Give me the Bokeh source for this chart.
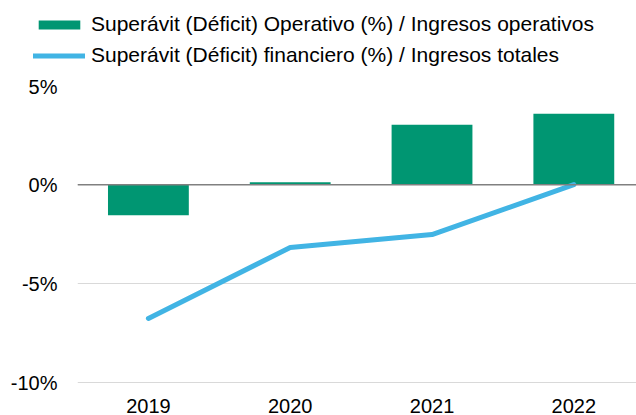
from bokeh.plotting import figure
from bokeh.models import (Range1d, FixedTicker, PrintfTickFormatter, Legend, LegendItem,
                          Span, ColumnDataSource)
from bokeh.embed import file_html
from bokeh.resources import INLINE

years = ["2019", "2020", "2021", "2022"]
operativo = [-1.55, 0.12, 3.02, 3.58]
financiero = [-6.75, -3.17, -2.52, 0.0]
y_ticks = [-10, -5, 0, 5]

label_op = "Superávit (Déficit) Operativo (%) / Ingresos operativos"
label_fin = "Superávit (Déficit) financiero (%) / Ingresos totales"

FONT = "Liberation Sans"
GREEN = "#009672"
BLUE = "#41B4E4"

idx = list(range(len(years)))
src = ColumnDataSource(dict(x=idx, op=operativo, fin=financiero))

# ---- legend strip on top (series drawn out of view; only the legend shows) ----
top = figure(width=636, height=75, output_backend="svg", toolbar_location=None,
             x_range=Range1d(-20, -19), y_range=Range1d(-20, -19),
             min_border_left=21, min_border_right=0, min_border_top=0, min_border_bottom=0,
             x_axis_location=None, y_axis_location=None)
top.outline_line_color = None
top.grid.visible = False
lg_bar = top.vbar(x="x", top="op", bottom=0, width=0.57, source=src,
                  fill_color=GREEN, line_color=None)
lg_line = top.line(x="x", y="fin", source=src, line_color=BLUE, line_width=5,
                   line_cap="round")
legend = Legend(items=[LegendItem(label=label_op, renderers=[lg_bar]),
                       LegendItem(label=label_fin, renderers=[lg_line])],
                location="top_left", orientation="vertical",
                padding=0, margin=12, spacing=7,
                glyph_width=52, glyph_height=11, label_height=20,
                label_standoff=6,
                label_text_font=FONT, label_text_font_size="21px",
                label_text_color="#000000",
                border_line_color=None, background_fill_alpha=0)
top.add_layout(legend, "center")

# ---- main chart ----
p = figure(width=636, height=340, output_backend="svg", toolbar_location=None,
           x_range=Range1d(-0.5, 3.442), y_range=Range1d(-10.03, 5),
           min_border_left=77, min_border_right=0, min_border_top=10, min_border_bottom=32)
p.outline_line_color = None

p.xgrid.visible = False
p.ygrid.grid_line_color = "#D9D9D9"
p.ygrid.grid_line_width = 1
p.yaxis.ticker = FixedTicker(ticks=y_ticks)
p.yaxis.formatter = PrintfTickFormatter(format="%d%%")
p.xaxis.ticker = FixedTicker(ticks=idx)
p.xaxis.major_label_overrides = {i: y for i, y in zip(idx, years)}

for ax in (p.xaxis[0], p.yaxis[0]):
    ax.axis_line_color = None
    ax.major_tick_line_color = None
    ax.minor_tick_line_color = None
    ax.major_label_text_font = FONT
    ax.major_label_text_font_size = "20px"
    ax.major_label_text_color = "#000000"
p.yaxis.major_label_standoff = 14
p.xaxis.major_label_standoff = 9

p.vbar(x="x", top="op", bottom=0, width=0.57, source=src,
       fill_color=GREEN, line_color=None)
p.add_layout(Span(location=0, dimension="width", line_color="#808080", line_width=1.5))
p.line(x="x", y="fin", source=src, line_color=BLUE, line_width=5,
       line_cap="round", line_join="round")

open("out.html", "w").write(file_html([top, p], INLINE))
